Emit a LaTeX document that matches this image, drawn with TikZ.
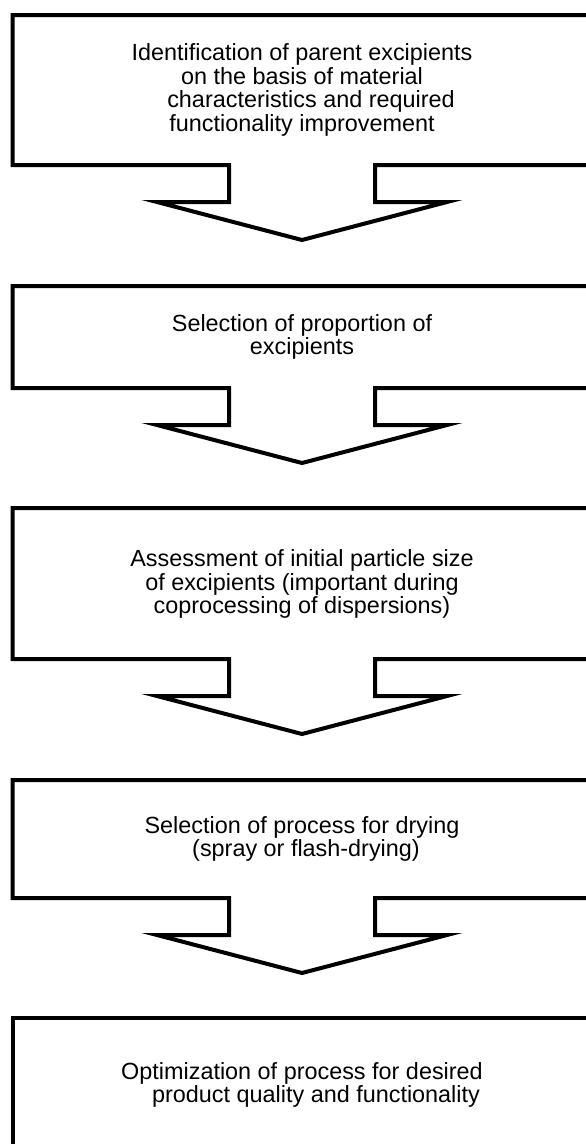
\documentclass[tikz,border=0pt]{standalone}
\usepackage{fontspec}
\setmainfont{Liberation Sans}
\begin{document}
\begin{tikzpicture}[x=1pt,y=-1pt,line width=4pt,line join=miter]
			\def\boxL{12.5}
			\def\boxR{600}
			\def\stemL{229}
			\def\stemR{375}
			\def\wingL{157}
			\def\wingR{447}
			\def\midx{302}
			\tikzset{steptext/.style={align=center,font=\fontsize{23.4}{23.7}\selectfont}}
			\useasboundingbox (0,0) rectangle (586,1144);
			\clip (0,0) rectangle (586,1144);
			\foreach \t/\b in {15/165,286/388,508/659,780/898}
				\draw (\stemL,\b)--(\boxL,\b)--(\boxL,\t)--(\boxR,\t)--(\boxR,\b)--(\stemR,\b)--(\stemR,\b+37)--(\wingR,\b+37)--(\midx,\b+75)--(\wingL,\b+37)--(\stemL,\b+37)--cycle; % box with arrow below
			\draw (\boxL,1170)--(\boxL,1018)--(\boxR,1018); % last box
			\node[steptext] (ident) at (\midx,90) {Identification of parent excipients\\on the basis of material\\\hspace*{18pt}characteristics and required\\functionality improvement};
			\node[steptext] (proport) at (\midx,337) {Selection of proportion of\\excipients};
			\node[steptext] (assess) at (\midx,584) {Assessment of initial particle size\\of excipients (important during\\coprocessing of dispersions)};
			\node[steptext] (drying) at (\midx,839) {Selection of process for drying\\\hspace*{8pt}(spray or flash-drying)};
			\node[steptext] (optim) at (\midx,1085) {Optimization of process for desired\\\hspace*{28pt}product quality and functionality};
	\end{tikzpicture}
\end{document}
